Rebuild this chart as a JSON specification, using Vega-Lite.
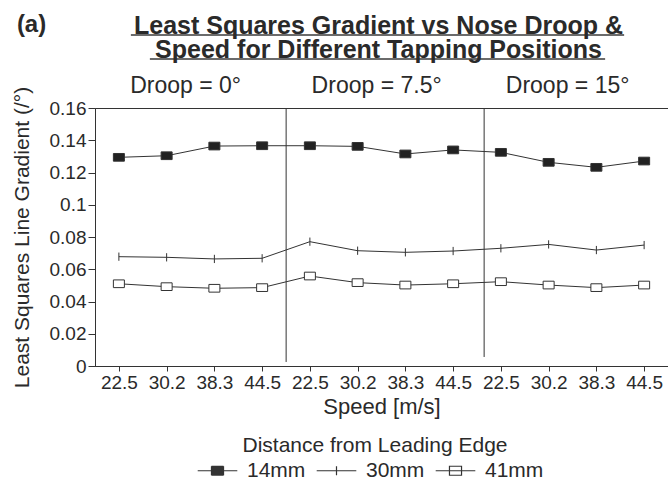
{
  "$schema": "https://vega.github.io/schema/vega-lite/v6.json",
  "width": 573,
  "height": 258,
  "autosize": {"type": "none"},
  "padding": {"left": 95, "top": 108, "right": 0, "bottom": 114},
  "background": "white",
  "config": {
    "font": "Liberation Sans",
    "view": {"stroke": "#333333", "strokeWidth": 1},
    "axis": {"grid": false, "domainColor": "#333333", "tickColor": "#333333", "labelColor": "#2a2a2a", "titleColor": "#2a2a2a", "labelFontSize": 19, "titleFontSize": 21, "titleFontWeight": "normal", "labelFont": "Liberation Sans", "titleFont": "Liberation Sans"}
  },
  "title": {
    "text": ["Least Squares Gradient vs Nose Droop &", "Speed for Different Tapping Positions"],
    "fontSize": 25, "fontWeight": "bold", "color": "#2a2a2a", "anchor": "middle", "dx": -3, "offset": -50, "lineHeight": 24, "font": "Liberation Sans"
  },
  "datasets": {
    "main": [
      {"key": "0|22.5", "series": "14mm", "value": 0.1294},
      {"key": "0|30.2", "series": "14mm", "value": 0.1304},
      {"key": "0|38.3", "series": "14mm", "value": 0.1364},
      {"key": "0|44.5", "series": "14mm", "value": 0.1366},
      {"key": "7.5|22.5", "series": "14mm", "value": 0.1366},
      {"key": "7.5|30.2", "series": "14mm", "value": 0.1362},
      {"key": "7.5|38.3", "series": "14mm", "value": 0.1315},
      {"key": "7.5|44.5", "series": "14mm", "value": 0.134},
      {"key": "15|22.5", "series": "14mm", "value": 0.1325},
      {"key": "15|30.2", "series": "14mm", "value": 0.1263},
      {"key": "15|38.3", "series": "14mm", "value": 0.1232},
      {"key": "15|44.5", "series": "14mm", "value": 0.1271},
      {"key": "0|22.5", "series": "30mm", "value": 0.0678},
      {"key": "0|30.2", "series": "30mm", "value": 0.0674},
      {"key": "0|38.3", "series": "30mm", "value": 0.0664},
      {"key": "0|44.5", "series": "30mm", "value": 0.0668},
      {"key": "7.5|22.5", "series": "30mm", "value": 0.0771},
      {"key": "7.5|30.2", "series": "30mm", "value": 0.0715},
      {"key": "7.5|38.3", "series": "30mm", "value": 0.0705},
      {"key": "7.5|44.5", "series": "30mm", "value": 0.0713},
      {"key": "15|22.5", "series": "30mm", "value": 0.073},
      {"key": "15|30.2", "series": "30mm", "value": 0.0754},
      {"key": "15|38.3", "series": "30mm", "value": 0.0719},
      {"key": "15|44.5", "series": "30mm", "value": 0.075},
      {"key": "0|22.5", "series": "41mm", "value": 0.051},
      {"key": "0|30.2", "series": "41mm", "value": 0.0492},
      {"key": "0|38.3", "series": "41mm", "value": 0.0482},
      {"key": "0|44.5", "series": "41mm", "value": 0.0486},
      {"key": "7.5|22.5", "series": "41mm", "value": 0.0558},
      {"key": "7.5|30.2", "series": "41mm", "value": 0.0517},
      {"key": "7.5|38.3", "series": "41mm", "value": 0.0502},
      {"key": "7.5|44.5", "series": "41mm", "value": 0.051},
      {"key": "15|22.5", "series": "41mm", "value": 0.0523},
      {"key": "15|30.2", "series": "41mm", "value": 0.0502},
      {"key": "15|38.3", "series": "41mm", "value": 0.0486},
      {"key": "15|44.5", "series": "41mm", "value": 0.0502}
    ],
    "droops": [
      {"key": "0|30.2", "label": "Droop = 0°"},
      {"key": "7.5|30.2", "label": "Droop = 7.5°"},
      {"key": "15|30.2", "label": "Droop = 15°"}
    ],
    "panel": [{"label": "(a)"}]
  },
  "layer": [
    {
      "data": {"name": "main"},
      "mark": {"type": "line", "color": "#333333", "strokeWidth": 1},
      "encoding": {
        "x": {
          "field": "key", "type": "ordinal", "title": "Speed [m/s]",
          "scale": {"type": "point", "padding": 0.5, "domain": ["0|22.5", "0|30.2", "0|38.3", "0|44.5", "7.5|22.5", "7.5|30.2", "7.5|38.3", "7.5|44.5", "15|22.5", "15|30.2", "15|38.3", "15|44.5"]},
          "axis": {"labelExpr": "split(datum.value, '|')[1]", "labelAngle": 0, "labelAlign": "center", "labelBaseline": "top", "tickSize": 5, "labelPadding": 2, "titlePadding": 4, "titleFontSize": 22}
        },
        "y": {
          "field": "value", "type": "quantitative", "title": "Least Squares Line Gradient (/°)",
          "scale": {"domain": [0, 0.16], "nice": false},
          "axis": {"tickCount": 8, "format": "~g", "labelOverlap": false, "labelBound": false, "labelSeparation": 0, "labelBaseline": "middle", "labelAlign": "right", "tickSize": 7, "labelPadding": 2, "titlePadding": 17}
        },
        "detail": {"field": "series"}
      }
    },
    {
      "data": {"values": [{}]},
      "mark": {"type": "rule", "xOffset": 24, "color": "#333333", "strokeWidth": 1},
      "encoding": {
        "x": {"datum": "0|44.5", "type": "ordinal"},
        "y": {"datum": 0.16, "type": "quantitative"},
        "y2": {"datum": 0.0025}
      }
    },
    {
      "data": {"values": [{}]},
      "mark": {"type": "rule", "xOffset": 31, "color": "#333333", "strokeWidth": 1},
      "encoding": {
        "x": {"datum": "7.5|44.5", "type": "ordinal"},
        "y": {"datum": 0.16, "type": "quantitative"},
        "y2": {"datum": 0.0056}
      }
    },
    {
      "data": {"values": [{}]},
      "mark": {"type": "rule", "xOffset": 12, "x2Offset": -20, "color": "#3a3a3a", "strokeWidth": 1.5},
      "encoding": {
        "x": {"datum": "0|22.5", "type": "ordinal"},
        "x2": {"datum": "15|44.5"},
        "y": {"datum": 0.2053, "type": "quantitative"}
      }
    },
    {
      "data": {"values": [{}]},
      "mark": {"type": "rule", "xOffset": 31, "x2Offset": -39, "color": "#3a3a3a", "strokeWidth": 1.5},
      "encoding": {
        "x": {"datum": "0|22.5", "type": "ordinal"},
        "x2": {"datum": "15|44.5"},
        "y": {"datum": 0.1904, "type": "quantitative"}
      }
    },
    {
      "data": {"name": "main"},
      "mark": {"type": "point", "stroke": "#333333", "strokeWidth": 1, "size": 121, "opacity": 1},
      "encoding": {
        "x": {"field": "key", "type": "ordinal"},
        "y": {"field": "value", "type": "quantitative"},
        "shape": {"field": "series", "type": "nominal", "legend": null,
          "scale": {"domain": ["14mm", "30mm", "41mm"], "range": ["M-1,-0.7L1,-0.7L1,0.7L-1,0.7Z", "M0,-0.75L0,0.75", "M-1,-0.7L1,-0.7L1,0.7L-1,0.7Z"]}},
        "fill": {"field": "series", "type": "nominal", "legend": null,
          "scale": {"domain": ["14mm", "30mm", "41mm"], "range": ["#222222", "transparent", "#ffffff"]}}
      }
    },
    {
      "data": {"name": "main"},
      "transform": [{"filter": "datum.value < 0"}],
      "mark": {"type": "point", "filled": false, "strokeWidth": 1.2, "opacity": 1},
      "encoding": {
        "x": {"field": "key", "type": "ordinal"},
        "y": {"field": "value", "type": "quantitative"},
        "color": {"field": "series", "type": "nominal", "title": "Distance from Leading Edge",
          "scale": {"domain": ["14mm", "30mm", "41mm"], "range": ["#333333", "#333333", "#333333"]},
          "legend": {"orient": "none", "legendX": 112, "legendY": 327, "direction": "horizontal", "columns": 3, "padding": 0, "titleAnchor": "middle", "titleLimit": 1000, "titleFontSize": 21, "titleFontWeight": "normal", "titleColor": "#2a2a2a", "labelFontSize": 21, "labelColor": "#2a2a2a", "symbolSize": 324, "symbolStrokeWidth": 1.2, "symbolOpacity": 1, "columnPadding": 8, "labelOffset": 19, "titlePadding": 4, "titleFont": "Liberation Sans", "labelFont": "Liberation Sans"}},
        "shape": {"field": "series", "type": "nominal", "title": "Distance from Leading Edge",
          "scale": {"domain": ["14mm", "30mm", "41mm"], "range": [
            "M-2.2,0L-0.67,0M0.67,0L2.2,0M-0.67,-0.5L0.67,-0.5M-0.67,-0.4L0.67,-0.4M-0.67,-0.3L0.67,-0.3M-0.67,-0.2L0.67,-0.2M-0.67,-0.1L0.67,-0.1M-0.67,0L0.67,0M-0.67,0.1L0.67,0.1M-0.67,0.2L0.67,0.2M-0.67,0.3L0.67,0.3M-0.67,0.4L0.67,0.4M-0.67,0.5L0.67,0.5M-0.67,-0.5L-0.67,0.5M0.67,-0.5L0.67,0.5",
            "M-2.2,0L2.2,0M0,-0.5L0,0.5",
            "M-2.2,0L2.2,0M-0.67,-0.5L0.67,-0.5L0.67,0.5L-0.67,0.5Z"]},
          "legend": {"orient": "none", "legendX": 112, "legendY": 327, "direction": "horizontal", "columns": 3, "padding": 0, "titleAnchor": "middle", "titleLimit": 1000, "titleFontSize": 21, "titleFontWeight": "normal", "titleColor": "#2a2a2a", "labelFontSize": 21, "labelColor": "#2a2a2a", "symbolSize": 324, "symbolStrokeWidth": 1.2, "symbolOpacity": 1, "columnPadding": 8, "labelOffset": 19, "titlePadding": 4, "titleFont": "Liberation Sans", "labelFont": "Liberation Sans"}}
      }
    },
    {
      "data": {"name": "droops"},
      "mark": {"type": "text", "xOffset": 19, "fontSize": 23, "color": "#2a2a2a", "baseline": "alphabetic", "align": "center", "font": "Liberation Sans"},
      "encoding": {
        "x": {"field": "key", "type": "ordinal"},
        "y": {"datum": 0.1693, "type": "quantitative"},
        "text": {"field": "label"}
      }
    },
    {
      "data": {"name": "panel"},
      "mark": {"type": "text", "fontSize": 24, "fontWeight": "bold", "color": "#2a2a2a", "baseline": "alphabetic", "align": "left", "dx": -102, "font": "Liberation Sans"},
      "encoding": {
        "x": {"datum": "0|22.5", "type": "ordinal"},
        "y": {"datum": 0.2071, "type": "quantitative"},
        "text": {"field": "label"}
      }
    }
  ],
  "resolve": {"scale": {"shape": "independent", "fill": "independent", "color": "independent"}}
}
